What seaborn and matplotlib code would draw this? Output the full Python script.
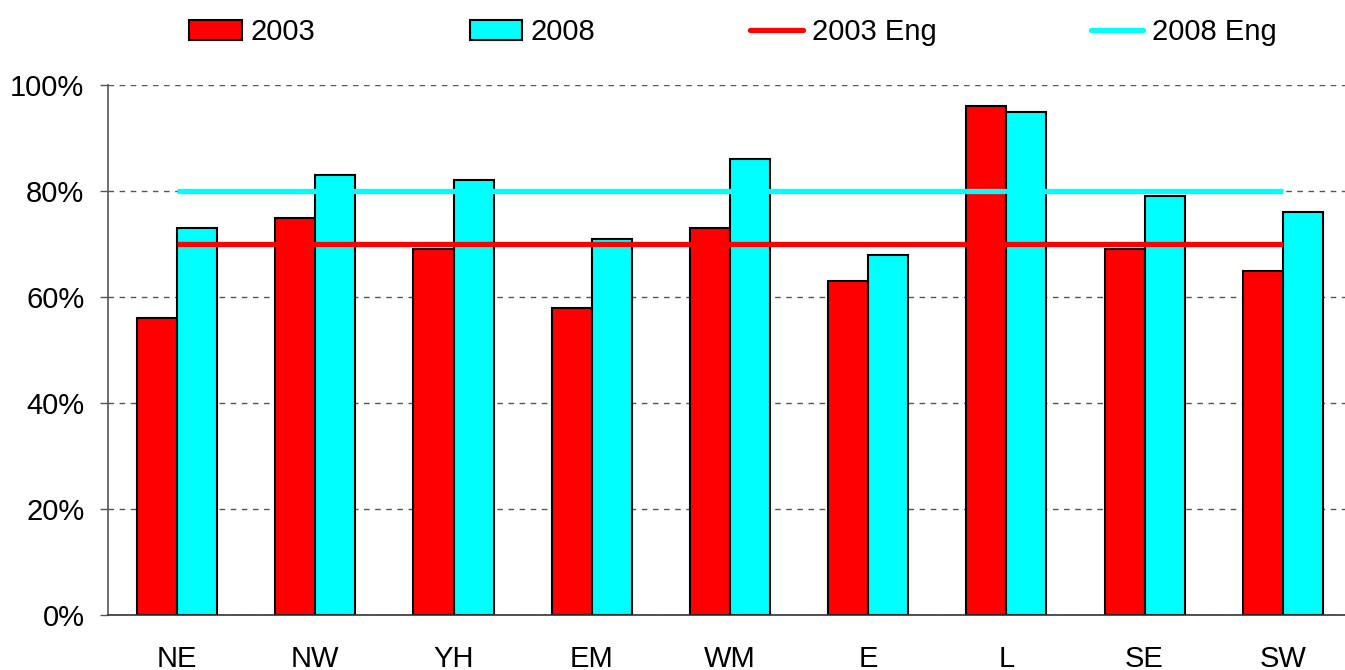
import numpy as np
import pandas as pd
import seaborn as sns
import matplotlib.pyplot as plt
from matplotlib.patches import Patch
from matplotlib.lines import Line2D
from matplotlib.ticker import FuncFormatter

regions = ["NE", "NW", "YH", "EM", "WM", "E", "L", "SE", "SW"]
pct_2003 = [56, 75, 69, 58, 73, 63, 96, 69, 65]
pct_2008 = [73, 83, 82, 71, 86, 68, 95, 79, 76]
eng_2003 = 70
eng_2008 = 80
years = ["2003", "2008"]
colors = {"2003": "#ff0000", "2008": "#00ffff"}

df = pd.DataFrame({
    "region": regions * 2,
    "year": ["2003"] * len(regions) + ["2008"] * len(regions),
    "pct": pct_2003 + pct_2008,
})

sns.set_style("white")
plt.rcParams['font.family'] = ['Liberation Sans', 'DejaVu Sans']
plt.rcParams['text.color'] = 'black'
plt.rcParams['xtick.color'] = 'black'
plt.rcParams['ytick.color'] = 'black'

fig = plt.figure(figsize=(13.45, 6.7), dpi=100)
ax = fig.add_axes([0.0803, 0.082, 0.9197, 0.791])

sns.barplot(data=df, x="region", y="pct", hue="year", order=regions,
            hue_order=years, palette=colors, width=0.58,
            edgecolor="black", linewidth=1.5, saturation=1, ax=ax, legend=False)

# england averages, drawn from first to last region
ax.hlines(eng_2003, 0, len(regions) - 1, color=colors["2003"], lw=3.8, zorder=3)
ax.hlines(eng_2008, 0, len(regions) - 1, color=colors["2008"], lw=3.8, zorder=3)

ax.set_xlim(-0.5, 8.45)
ax.set_ylim(0, 100)
ax.set_yticks(np.arange(0, 101, 20))
ax.yaxis.set_major_formatter(FuncFormatter(lambda v, p: f"{v:.0f}%"))
ax.yaxis.grid(True, linestyle=(0, (4, 4)), color="#555555", lw=1)
ax.set_axisbelow(True)
ax.set_xlabel("")
ax.set_ylabel("")

for s in ["top", "right"]:
    ax.spines[s].set_visible(False)
ax.spines["left"].set_color("#555555")
ax.spines["bottom"].set_color("#333333")
ax.spines["left"].set_linewidth(1.2)
ax.spines["bottom"].set_linewidth(1.2)

ax.tick_params(axis="y", which="major", left=True, length=6, width=1,
               color="#555555", labelcolor="black", labelsize=21, pad=11)
ax.tick_params(axis="x", bottom=False, labelcolor="black", labelsize=21, pad=18)

handles = [
    Patch(facecolor=colors["2003"], edgecolor="black", lw=1.5, label="2003"),
    Patch(facecolor=colors["2008"], edgecolor="black", lw=1.5, label="2008"),
    Line2D([], [], color=colors["2003"], lw=3.8, label="2003 Eng"),
    Line2D([], [], color=colors["2008"], lw=3.8, label="2008 Eng"),
]
fig.legend(handles=handles, loc="upper center", bbox_to_anchor=(0.545, 1.012),
           ncol=4, frameon=False, fontsize=21, handlelength=1.8,
           handleheight=0.7, handletextpad=0.3, columnspacing=5.3)

plt.savefig("out.png", dpi=100)
